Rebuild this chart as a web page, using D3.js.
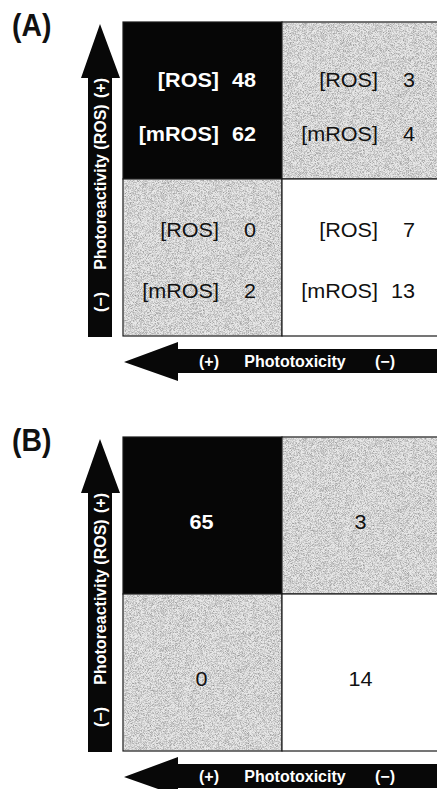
<!DOCTYPE html>
<html>
<head>
<meta charset="utf-8">
<script src="https://cdn.jsdelivr.net/npm/d3@7"></script>
<style>
  html, body { margin: 0; padding: 0; background: #fff; }
  svg { display: block; }
  text { font-family: "Liberation Sans", Arial, Helvetica, sans-serif; }
</style>
</head>
<body>
<svg id="chart" width="437" height="789"></svg>
<script>
// Phototoxicity (columns) vs photoreactivity (rows) contingency tables
const toxicity = ["(+)", "(−)"];      // columns, left to right
const reactivity = ["(+)", "(−)"];    // rows, top to bottom
const panelIds = ["(A)", "(B)"];

// Panel A: counts by assay, row-major [react+, tox+], [react+, tox−], [react−, tox+], [react−, tox−]
const rosCounts = [48, 3, 0, 7];
const mrosCounts = [62, 4, 2, 13];
// Panel B: combined counts, same order
const combinedCounts = [65, 3, 0, 14];

const svg = d3.select("#chart");
const W = 437;

// fine grain texture for the shaded cells
const defs = svg.append("defs");
const grain = defs.append("filter").attr("id", "grain")
  .attr("x", 0).attr("y", 0).attr("width", "100%").attr("height", "100%");
grain.append("feTurbulence").attr("type", "fractalNoise")
  .attr("baseFrequency", 1.6).attr("numOctaves", 1).attr("seed", 7).attr("result", "n");
grain.append("feColorMatrix").attr("in", "n").attr("type", "matrix")
  .attr("values", "0 0 0 0 0  0 0 0 0 0  0 0 0 0 0  0.9 0 0 0 -0.36").attr("result", "a");
grain.append("feComposite").attr("in", "a").attr("in2", "SourceGraphic").attr("operator", "in");

const x = d3.scaleBand().domain(toxicity).range([123, 441]);
const y = d3.scaleBand().domain(reactivity).range([22, 336]);

function cellsFrom(...series) {
  const out = [];
  reactivity.forEach((r, ri) => toxicity.forEach((t, ti) => {
    const i = ri * toxicity.length + ti;
    out.push({ r, t, ri, ti, values: series.map(s => s[i]) });
  }));
  return out;
}

function cellKind(d) {
  if (d.ri === 0 && d.ti === 0) return "dark";
  if (d.ri === 1 && d.ti === 1) return "light";
  return "shade";
}

function drawArrows(g) {
  const ink = "#080808";
  // vertical arrow: photoreactivity
  const cx = 100, shaftL = 88, shaftR = 112, tipY = 24, headY = 78, bottom = 337;
  g.append("path")
    .attr("d", `M${cx},${tipY} L${shaftR + 8},${headY} L${shaftR},${headY} L${shaftR},${bottom} L${shaftL},${bottom} L${shaftL},${headY} L${shaftL - 7},${headY} Z`)
    .attr("fill", ink);
  const vt = [
    { s: "(+)", y: 88 },
    { s: "Photoreactivity (ROS)", y: 187 },
    { s: "(−)", y: 302 }
  ];
  g.selectAll("text.vlab").data(vt).join("text").attr("class", "vlab")
    .attr("transform", d => `translate(105.5,${d.y}) rotate(-90)`)
    .attr("text-anchor", "middle")
    .attr("font-size", 16).attr("font-weight", "bold").attr("fill", "#fff")
    .text(d => d.s);

  // horizontal arrow: phototoxicity
  const tipX = 124, headX = 178, cy = 362, top = 349, bot = 373;
  g.append("path")
    .attr("d", `M${tipX},${cy} L${headX},${top - 7} L${headX},${top} L${W + 10},${top} L${W + 10},${bot} L${headX},${bot} L${headX},${bot + 8} Z`)
    .attr("fill", ink);
  const ht = [
    { s: "(+)", x: 209 },
    { s: "Phototoxicity", x: 295 },
    { s: "(−)", x: 385 }
  ];
  g.selectAll("text.hlab").data(ht).join("text").attr("class", "hlab")
    .attr("x", d => d.x).attr("y", 367)
    .attr("text-anchor", "middle")
    .attr("font-size", 16).attr("font-weight", "bold").attr("fill", "#fff")
    .text(d => d.s);
}

function drawGrid(g, cells) {
  const cg = g.selectAll("g.cell").data(cells).join("g").attr("class", "cell");
  cg.append("rect")
    .attr("x", d => x(d.t)).attr("y", d => y(d.r))
    .attr("width", x.bandwidth()).attr("height", y.bandwidth())
    .attr("fill", d => ({ dark: "#060606", shade: "#e8e8e8", light: "#ffffff" })[cellKind(d)])
    .attr("stroke", "#1a1a1a").attr("stroke-width", 1.2);
  cg.filter(d => cellKind(d) === "shade").append("rect")
    .attr("x", d => x(d.t) + 1).attr("y", d => y(d.r) + 1)
    .attr("width", x.bandwidth() - 2).attr("height", y.bandwidth() - 2)
    .attr("fill", "#000").attr("filter", "url(#grain)");
}

panelIds.forEach((id, pi) => {
  const g = svg.append("g").attr("transform", `translate(0,${pi * 415})`);
  g.append("text")
    .attr("transform", "translate(12,36) scale(1.05,1.15)")
    .attr("font-size", 27).attr("font-weight", "bold").attr("fill", "#111")
    .text(id);

  drawArrows(g);

  if (pi === 0) {
    const cells = cellsFrom(rosCounts, mrosCounts);
    drawGrid(g, cells);
    const names = ["[ROS]", "[mROS]"];
    const rowBase = [[65, 119], [58, 119]];
    cells.forEach(d => {
      const dark = cellKind(d) === "dark";
      const x0 = x(d.t), y0 = y(d.r);
      d.values.forEach((v, li) => {
        const by = y0 + rowBase[d.ri][li];
        const common = t => t.attr("text-anchor", "end")
          .attr("font-size", 20)
          .attr("font-weight", dark ? "bold" : "normal")
          .attr("fill", dark ? "#fff" : "#111");
        g.append("text").attr("transform", `translate(${x0 + 96},${by}) scale(1.08,1)`)
          .call(common).text(names[li]);
        g.append("text").attr("transform", `translate(${x0 + 133},${by}) scale(1.08,1)`)
          .call(common).text(v);
      });
    });
  } else {
    const cells = cellsFrom(combinedCounts);
    drawGrid(g, cells);
    g.selectAll("text.num").data(cells).join("text").attr("class", "num")
      .attr("transform", d => `translate(${x(d.t) + x.bandwidth() / 2 - 1},${y(d.r) + 92}) scale(1.08,1)`)
      .attr("text-anchor", "middle")
      .attr("font-size", 20)
      .attr("font-weight", d => cellKind(d) === "dark" ? "bold" : "normal")
      .attr("fill", d => cellKind(d) === "dark" ? "#fff" : "#111")
      .text(d => d.values[0]);
  }
});
</script>
</body>
</html>
